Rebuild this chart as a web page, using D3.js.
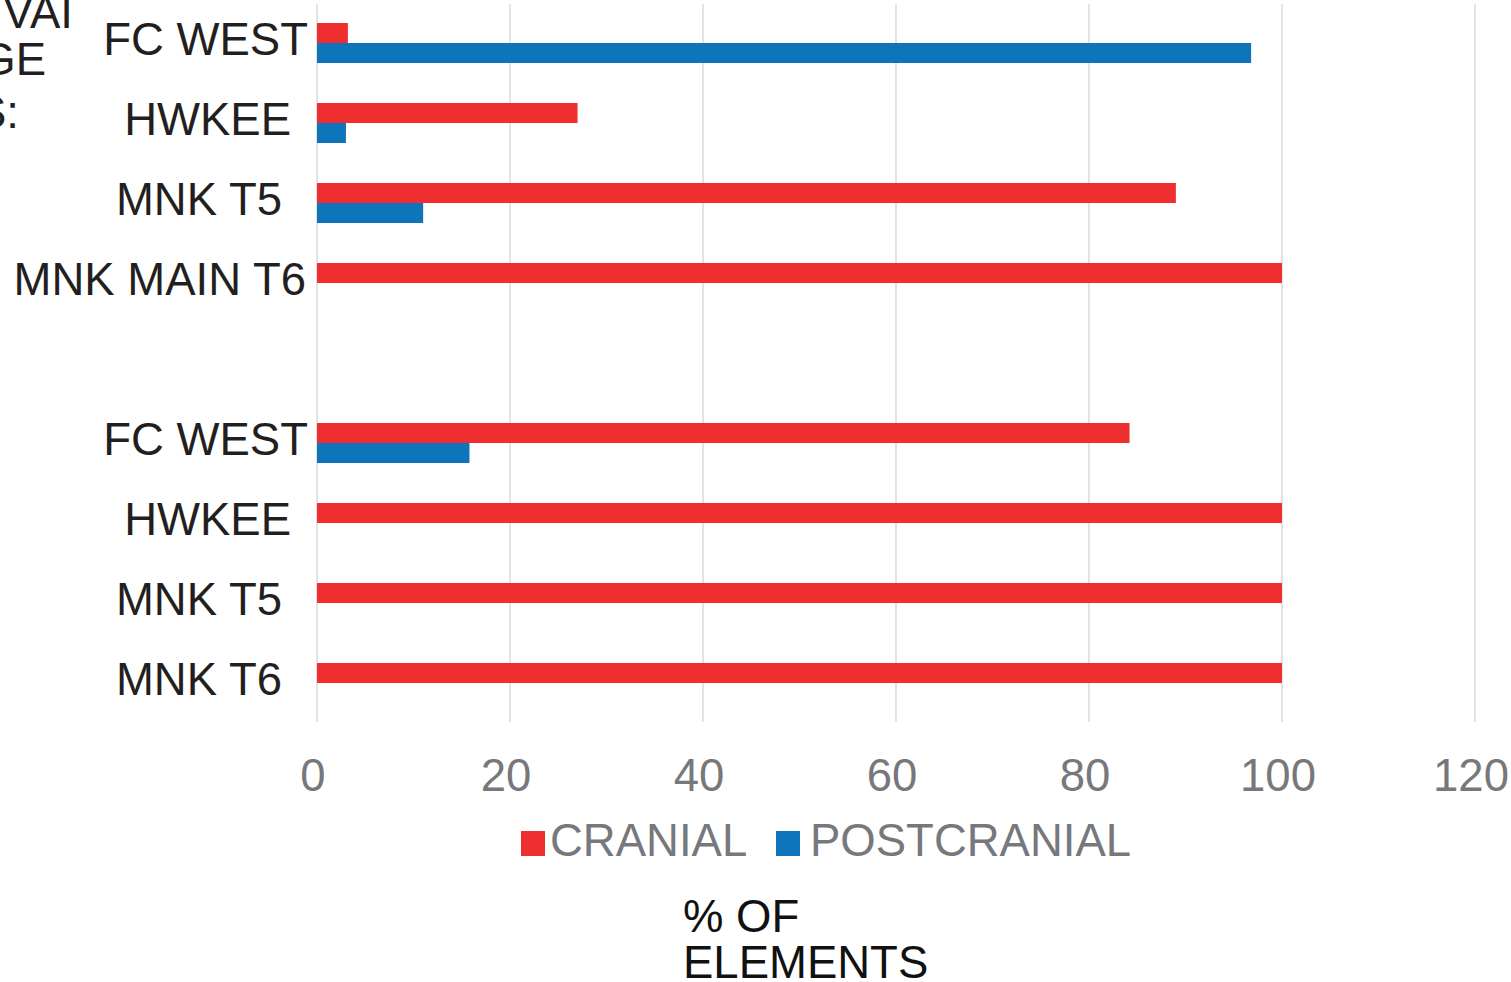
<!DOCTYPE html>
<html>
<head>
<meta charset="utf-8">
<script src="https://cdn.jsdelivr.net/npm/d3@7"></script>
<style>
  html, body { margin: 0; padding: 0; background: #fff; overflow: hidden; }
  text { font-family: "Liberation Sans", Arial, sans-serif; }
</style>
</head>
<body>
<svg id="chart" width="1511" height="982"></svg>
<script>
// ---- data ----
const categories = ["FC WEST", "HWKEE", "MNK T5", "MNK MAIN T6", "", "FC WEST", "HWKEE", "MNK T5", "MNK T6"];
const cranial     = [3.2, 27, 89, 100, null, 84.2, 100, 100, 100];
const postcranial = [96.8, 3, 11, 0, null, 15.8, 0, 0, 0];
const xTicks = [0, 20, 40, 60, 80, 100, 120];
const seriesNames = ["CRANIAL", "POSTCRANIAL"];
const groupLabelFragments = ["VAI", "GE", "S:"];
const axisTitleLines = ["% OF", "ELEMENTS"];

// ---- layout ----
const W = 1511, H = 982;
const plot = { left: 317, right: 1475, top: 3, bottom: 723 };
const labelEnd = [308, 291, 282, 306, 0, 308, 291, 282, 282];
const colors = { CRANIAL: "#EE2E2F", POSTCRANIAL: "#0E75BB" };
const FS = 45.5;

const svg = d3.select("#chart");

const x = d3.scaleLinear().domain([0, 120]).range([plot.left, plot.right]);
const y = d3.scaleBand().domain(d3.range(categories.length)).range([plot.top, plot.bottom]).padding(0);
const barH = 20;

// gridlines
svg.append("g").selectAll("line").data(xTicks).join("line")
  .attr("x1", d => x(d)).attr("x2", d => x(d))
  .attr("y1", plot.top + 1).attr("y2", plot.bottom - 1)
  .attr("stroke", "#DCDDDE").attr("stroke-width", 1.6);

// bars
const rows = categories.map((c, i) => ({ i, c, cr: cranial[i], pc: postcranial[i] }));
const bars = svg.append("g");
bars.selectAll("rect.cr").data(rows.filter(d => d.cr)).join("rect")
  .attr("class", "cr")
  .attr("x", x(0)).attr("width", d => x(d.cr) - x(0))
  .attr("y", d => y(d.i) + y.bandwidth() / 2 - barH).attr("height", barH)
  .attr("fill", colors.CRANIAL);
bars.selectAll("rect.pc").data(rows.filter(d => d.pc)).join("rect")
  .attr("class", "pc")
  .attr("x", x(0)).attr("width", d => x(d.pc) - x(0))
  .attr("y", d => y(d.i) + y.bandwidth() / 2).attr("height", barH)
  .attr("fill", colors.POSTCRANIAL);

// category labels
svg.append("g").selectAll("text").data(rows.filter(d => d.c)).join("text")
  .attr("x", d => labelEnd[d.i])
  .attr("y", d => y(d.i) + y.bandwidth() / 2 + 12)
  .attr("text-anchor", "end")
  .attr("font-size", FS)
  .attr("fill", "#231F20")
  .text(d => d.c);

// cut-off group label at top-left (cropped in the reference as well)
const fragX = [73, 46, 19], fragY = [28, 75, 128];
svg.append("g").selectAll("text").data(groupLabelFragments).join("text")
  .attr("x", (d, i) => fragX[i]).attr("y", (d, i) => fragY[i])
  .attr("text-anchor", "end").attr("font-size", FS).attr("fill", "#231F20")
  .text(d => d);

// x tick labels
svg.append("g").selectAll("text").data(xTicks).join("text")
  .attr("x", d => x(d) - 4).attr("y", 791)
  .attr("text-anchor", "middle").attr("font-size", FS).attr("fill", "#77787B")
  .text(d => d);

// legend
const legendItems = [
  { name: seriesNames[0], sx: 521, tx: 550 },
  { name: seriesNames[1], sx: 776, tx: 810 }
];
const lg = svg.append("g");
lg.selectAll("rect").data(legendItems).join("rect")
  .attr("x", d => d.sx).attr("y", 831).attr("width", 24).attr("height", 25)
  .attr("fill", d => colors[d.name]);
lg.selectAll("text").data(legendItems).join("text")
  .attr("x", d => d.tx).attr("y", 856)
  .attr("font-size", FS).attr("fill", "#77787B")
  .text(d => d.name);

// axis title
svg.append("g").selectAll("text").data(axisTitleLines).join("text")
  .attr("x", 683).attr("y", (d, i) => 932 + i * 46)
  .attr("font-size", FS).attr("fill", "#111")
  .text(d => d);
</script>
</body>
</html>
